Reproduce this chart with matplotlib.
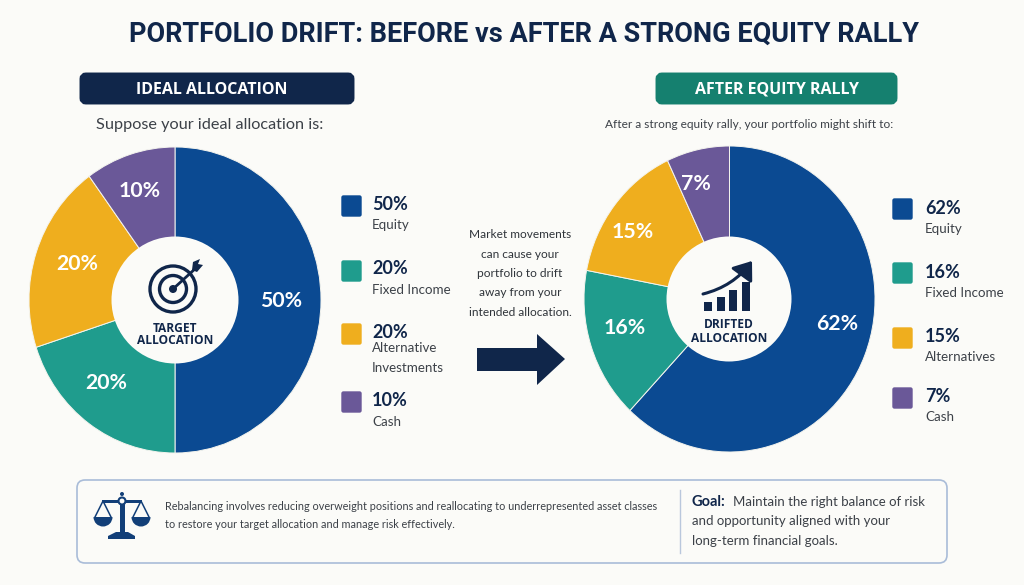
import matplotlib
matplotlib.use('Agg')
import matplotlib.pyplot as plt
from matplotlib.patches import Circle, FancyArrowPatch, FancyBboxPatch, Polygon, Rectangle, Wedge

plt.rcParams['font.family'] = ['Lato', 'DejaVu Sans']

# Data
ideal_values = [50, 20, 20, 10]
ideal_labels = ['Equity', 'Fixed Income', 'Alternative\nInvestments', 'Cash']
drift_values = [62, 16, 15, 7]
drift_labels = ['Equity', 'Fixed Income', 'Alternatives', 'Cash']

# Style
slice_colors = ['#0b4a92', '#1f9c8d', '#efae1e', '#6a5898']
navy = '#10264a'
teal = '#15806f'
body = '#3c4148'
bg = '#fbfbf8'
W, H = 1024, 585

# Pixel positions of the percent labels on the pies
ideal_pct_pos = [(281, 301), (106, 383), (77, 264), (140, 191)]
drift_pct_pos = [(837, 324), (625, 328), (633, 232), (696, 184)]

fig = plt.figure(figsize=(W / 100, H / 100), dpi=100, facecolor=bg)


def draw_pie(values, left, right, top, bottom):
    pie_ax = fig.add_axes([left / W, 1 - bottom / H, (right - left) / W,
                           (bottom - top) / H])
    pie_ax.pie(values, colors=slice_colors, startangle=90, counterclock=False,
               radius=1, wedgeprops=dict(edgecolor='#f4f4ee', linewidth=0.7))
    pie_ax.set_aspect('auto')
    pie_ax.set_xlim(-1, 1)
    pie_ax.set_ylim(-1, 1)


draw_pie(ideal_values, 29, 321, 147, 453)
draw_pie(drift_values, 584, 875, 146, 452)

# Overlay in pixel coordinates
ax = fig.add_axes([0, 0, 1, 1], facecolor='none')
ax.set_xlim(0, W)
ax.set_ylim(H, 0)
ax.axis('off')

ax.text(524, 34, 'PORTFOLIO DRIFT: BEFORE vs AFTER A STRONG EQUITY RALLY',
        ha='center', va='center', fontsize=19.5, fontweight='bold',
        family=['Roboto'], color=navy)


def header(x0, x1, color, text, text_x, sub, sub_x, sub_size):
    ax.add_patch(FancyBboxPatch((x0 + 3, 76), x1 - x0 - 6, 25,
                                boxstyle='round,pad=0,rounding_size=3',
                                mutation_aspect=1, fc=color, ec=color, lw=5))
    ax.text(text_x, 89.5, text, ha='center', va='center',
            fontsize=11.5, fontweight='bold', family=['Open Sans'], color='white')
    ax.text(sub_x, 124.5, sub, ha='center', va='center', fontsize=sub_size, color=body)


header(80, 354, navy, 'IDEAL ALLOCATION', 212,
       'Suppose your ideal allocation is:', 210, 11.7)
header(656, 897, teal, 'AFTER EQUITY RALLY', 777,
       'After a strong equity rally, your portfolio might shift to:', 749, 8.6)


def pct_labels(values, positions):
    for v, (x, y) in zip(values, positions):
        ax.text(x, y, '{}%'.format(v), ha='center', va='center', fontsize=15.3,
                fontweight='bold', color='white')


pct_labels(ideal_values, ideal_pct_pos)
pct_labels(drift_values, drift_pct_pos)

# Centre holes
ax.add_patch(Circle((175, 300), 63.5, fc=bg, ec='none'))
ax.add_patch(Circle((729, 299), 62.5, fc=bg, ec='none'))
for x, y, s in [(175, 328, 'TARGET'), (175, 341, 'ALLOCATION'),
                (729, 325, 'DRIFTED'), (729, 338, 'ALLOCATION')]:
    ax.text(x, y, s, ha='center', va='center', fontsize=8.6,
            fontweight='bold', family=['Open Sans'], color=navy)

# Target icon
ax.add_patch(Circle((173, 289), 23, fc='none', ec=navy, lw=2.4))
ax.add_patch(Circle((173, 289), 13.5, fc='none', ec=navy, lw=2.4))
ax.add_patch(Circle((173, 289), 4, fc=navy, ec='none'))
ax.plot([173, 196], [289, 268], color=navy, lw=2, solid_capstyle='round')
ax.add_patch(Polygon([(192, 270), (193, 262), (200, 259), (198, 264), (203, 265),
                      (197, 272)], closed=True, fc=navy, ec='none'))

# Growth icon
for x0, top in zip([704, 717, 729, 742], [302, 297, 290, 282]):
    ax.add_patch(Rectangle((x0, top), 8, 311 - top, fc=navy, ec='none'))
ax.add_patch(FancyArrowPatch((703, 294), (752, 261),
                             connectionstyle='arc3,rad=0.18',
                             arrowstyle='-|>,head_length=8,head_width=6',
                             mutation_scale=1.3, lw=2.2, color=navy,
                             shrinkA=0, shrinkB=0))


def legend(values, labels, swatch_tops, pct_ys, name_ys, x_sw, x_text):
    for i in range(len(values)):
        ax.add_patch(FancyBboxPatch((x_sw + 1, swatch_tops[i] + 1), 19, 20,
                                    boxstyle='round,pad=0,rounding_size=1.5',
                                    fc=slice_colors[i], ec=slice_colors[i], lw=1))
        ax.text(x_text, pct_ys[i], '{}%'.format(values[i]), ha='left', va='center',
                fontsize=13, fontweight='bold', color=navy)
        ax.text(x_text, name_ys[i], labels[i], ha='left', va='center', fontsize=9.6,
                color=body, linespacing=1.9)


legend(ideal_values, ideal_labels, [195, 260, 323, 391], [204, 268, 332, 401],
       [225, 290, 358, 422], 341, 372)
legend(drift_values, drift_labels, [198, 262, 327, 387], [208, 272, 336, 396],
       [229, 293, 357, 417], 892, 925)

# Middle note and arrow
note = ['Market movements', 'can cause your', 'portfolio to drift', 'away from your',
        'intended allocation.']
for i, line in enumerate(note):
    ax.text(520, 234.5 + i * 19.5, line, ha='center', va='center', fontsize=8.6,
            color='#2f343a')
ax.add_patch(Polygon([(477, 348), (537, 348), (537, 334), (565, 359), (537, 385),
                      (537, 371), (477, 371)], closed=True, fc=navy, ec='none'))

# Bottom box
ax.add_patch(FancyBboxPatch((77, 480), 870, 83,
                            boxstyle='round,pad=0,rounding_size=8',
                            fc='#fbfbf8', ec='#a9bcd8', lw=1.2))
ax.plot([680, 680], [490, 553], color='#b9c7dc', lw=1)
ax.text(165, 506, 'Rebalancing involves reducing overweight positions and reallocating to underrepresented asset classes',
        ha='left', va='center', fontsize=7.82, color=body)
ax.text(165, 525, 'to restore your target allocation and manage risk effectively.',
        ha='left', va='center', fontsize=7.82, color=body)
ax.text(692, 502, 'Goal:', ha='left', va='center', fontsize=10.5, fontweight='bold',
        color=navy)
ax.text(733, 502, 'Maintain the right balance of risk', ha='left', va='center',
        fontsize=9.5, color=body)
ax.text(692, 521, 'and opportunity aligned with your', ha='left', va='center',
        fontsize=9.5, color=body)
ax.text(692, 541, 'long-term financial goals.', ha='left', va='center',
        fontsize=9.5, color=body)

# Scales icon
blue = '#123f78'
ax.add_patch(Rectangle((119.5, 499), 5, 36, fc=blue, ec='none'))
ax.add_patch(Rectangle((102, 500), 40, 2.5, fc=blue, ec='none'))
ax.add_patch(Circle((122, 501), 3.5, fc=bg, ec=blue, lw=1.5))
ax.add_patch(Circle((122, 494), 2, fc=blue, ec='none'))
ax.add_patch(Polygon([(116, 532), (128, 532), (135, 536), (135, 539), (108, 539), (108, 536)],
                     closed=True, fc=blue, ec='none'))
for cx in [103, 141]:
    ax.plot([cx - 8, cx, cx + 8], [517, 501, 517], color=blue, lw=1.1)
    ax.add_patch(Wedge((cx, 517), 9.5, 0, 180, fc=blue, ec='none'))

fig.savefig('out.png', dpi=100, facecolor=bg)
